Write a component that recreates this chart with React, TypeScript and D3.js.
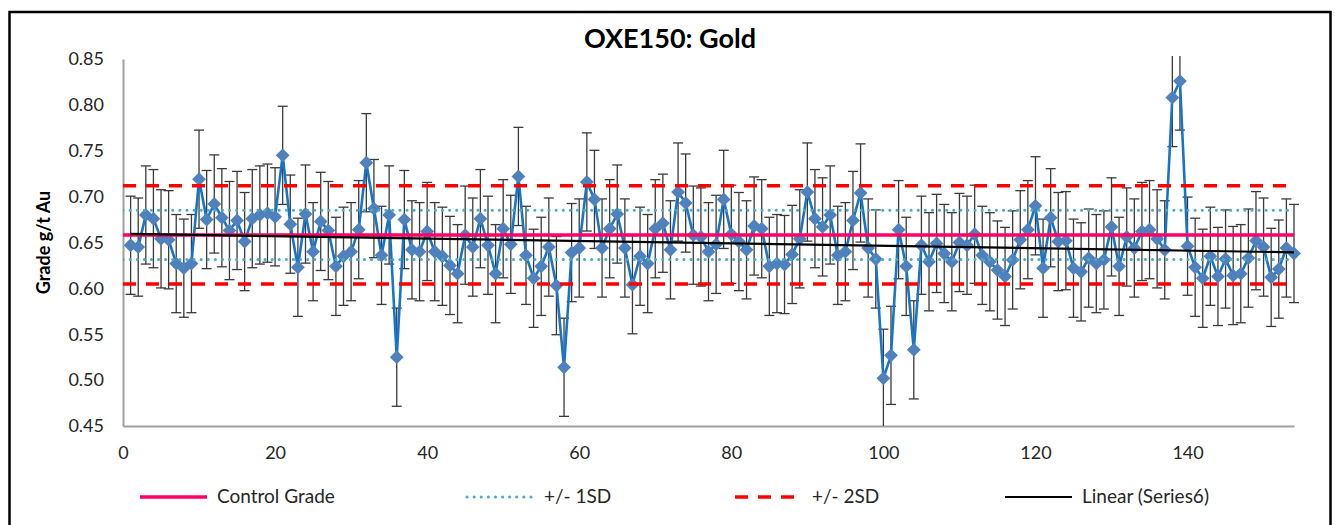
import React, { useEffect, useRef } from 'react';
import * as d3 from 'd3';

const W = 1335;
const H = 525;
const margin = { left: 123, right: 1294, top: 59, bottom: 426 };

// OXE150 gold assays, sample 1..154
const grades = [
  0.647, 0.645, 0.68, 0.676, 0.654, 0.653, 0.627, 0.622, 0.627, 0.719,
  0.675, 0.692, 0.677, 0.663, 0.674, 0.651, 0.676, 0.68, 0.682, 0.678,
  0.745, 0.67, 0.623, 0.681, 0.64, 0.673, 0.663, 0.624, 0.635, 0.64,
  0.664, 0.737, 0.687, 0.636, 0.68, 0.525, 0.675, 0.642,
  0.64, 0.662, 0.64, 0.635, 0.625, 0.616, 0.658, 0.645, 0.676, 0.647,
  0.616, 0.665, 0.648, 0.722, 0.636, 0.611, 0.624, 0.645, 0.603, 0.514,
  0.639, 0.644, 0.716, 0.697, 0.644, 0.665, 0.681, 0.644, 0.604, 0.635,
  0.627, 0.665, 0.671, 0.642, 0.705, 0.693, 0.658, 0.656, 0.64,
  0.648, 0.697, 0.659, 0.651, 0.642, 0.668, 0.665, 0.624, 0.627, 0.626,
  0.637, 0.654, 0.705, 0.676, 0.667, 0.68, 0.636, 0.64, 0.674, 0.704, 0.644, 0.632,
  0.502, 0.527, 0.664, 0.624, 0.533,
  0.647, 0.629, 0.649, 0.638, 0.629, 0.65, 0.647, 0.659, 0.636, 0.629, 0.62, 0.613,
  0.631, 0.653, 0.664, 0.69, 0.622, 0.677, 0.651, 0.652, 0.622, 0.618, 0.633,
  0.627, 0.631, 0.667, 0.624, 0.656, 0.644, 0.662, 0.664, 0.654, 0.642,
  0.808, 0.826,
  0.646, 0.623, 0.611, 0.635, 0.613, 0.632, 0.614, 0.616, 0.633, 0.652,
  0.645, 0.612, 0.621, 0.644, 0.638,
];
const samples = grades.map((_, i) => i + 1);
const errorBar = 0.0535;

const controlGrade = 0.6583;
const sd = 0.0268;

const yTicks = [0.45, 0.5, 0.55, 0.6, 0.65, 0.7, 0.75, 0.8, 0.85];
const xTicks = [0, 20, 40, 60, 80, 100, 120, 140];
const xMax = 154;

const legendItems = [
  { label: 'Control Grade', x: 140, color: '#ff0066', width: 3.5, dash: null, cap: 'butt' },
  { label: '+/- 1SD', x: 467, color: '#4bacc6', width: 3, dash: '0.1 7', cap: 'round' },
  { label: '+/- 2SD', x: 735, color: '#ff0000', width: 3.5, dash: '13 10', cap: 'butt' },
  { label: 'Linear (Series6)', x: 1005, color: '#000000', width: 2.2, dash: null, cap: 'butt' },
];

const font = 'Lato, "Open Sans", sans-serif';

export default function App() {
  const xAxisRef = useRef(null);
  const yAxisRef = useRef(null);
  const plotRef = useRef(null);

  const x = d3.scaleLinear().domain([0, xMax]).range([margin.left, margin.right]);
  const y = d3.scaleLinear().domain([0.45, 0.85]).range([margin.bottom, margin.top]);

  // least squares trend of the grades
  const mx = d3.mean(samples);
  const my = d3.mean(grades);
  const slope =
    d3.sum(samples, (s, i) => (s - mx) * (grades[i] - my)) /
    d3.sum(samples, (s) => (s - mx) ** 2);
  const intercept = my - slope * mx;

  useEffect(() => {
    const yg = d3.select(yAxisRef.current);
    yg.selectAll('*').remove();
    yg.call(
      d3.axisLeft(y).tickValues(yTicks).tickSize(0).tickPadding(19).tickFormat(d3.format('.2f'))
    )
      .call((g) => g.select('.domain').attr('stroke', '#a0a0a0').attr('stroke-width', 2))
      .call((g) =>
        g.selectAll('.tick text').attr('font-size', 18).attr('font-family', font).attr('fill', '#262626')
      );

    const xg = d3.select(xAxisRef.current);
    xg.selectAll('*').remove();
    xg.call(d3.axisBottom(x).tickValues(xTicks).tickSize(0).tickPadding(20).tickFormat(d3.format('d')))
      .call((g) => g.select('.domain').attr('stroke', '#a0a0a0').attr('stroke-width', 2))
      .call((g) =>
        g.selectAll('.tick text').attr('font-size', 18).attr('font-family', font).attr('fill', '#262626')
      );
  }, []);

  useEffect(() => {
    const g = d3.select(plotRef.current);
    g.selectAll('*').remove();

    // error bars
    const eb = g.append('g').attr('stroke', '#3a3a3a').attr('stroke-width', 1.3);
    grades.forEach((v, i) => {
      const cx = x(samples[i]);
      const hi = y(v + errorBar);
      const lo = y(v - errorBar);
      eb.append('line').attr('x1', cx).attr('x2', cx).attr('y1', hi).attr('y2', lo);
      eb.append('line').attr('x1', cx - 5).attr('x2', cx + 5).attr('y1', hi).attr('y2', hi);
      eb.append('line').attr('x1', cx - 5).attr('x2', cx + 5).attr('y1', lo).attr('y2', lo);
    });

    const line = d3
      .line<number>()
      .x((_, i) => x(samples[i]))
      .y((d) => y(d));
    g.append('path')
      .datum(grades)
      .attr('d', line)
      .attr('fill', 'none')
      .attr('stroke', '#1874c7')
      .attr('stroke-width', 2.6)
      .attr('stroke-linejoin', 'round');

    g.append('g')
      .attr('fill', '#4f81bd')
      .selectAll('path')
      .data(grades)
      .join('path')
      .attr('d', d3.symbol(d3.symbolSquare, 95))
      .attr('transform', (d, i) => `translate(${x(samples[i])},${y(d)}) rotate(45)`);

    const hline = (v, color, w, dash, cap) =>
      g
        .append('line')
        .attr('x1', x(0))
        .attr('x2', x(xMax))
        .attr('y1', y(v))
        .attr('y2', y(v))
        .attr('stroke', color)
        .attr('stroke-width', w)
        .attr('stroke-dasharray', dash)
        .attr('stroke-linecap', cap);

    hline(controlGrade + 2 * sd, '#ff0000', 3.5, '13 10', 'butt');
    hline(controlGrade - 2 * sd, '#ff0000', 3.5, '13 10', 'butt');
    hline(controlGrade + sd, '#4bacc6', 3, '0.1 7', 'round');
    hline(controlGrade - sd, '#4bacc6', 3, '0.1 7', 'round');
    hline(controlGrade, '#ff0066', 3.5, null, 'butt');

    g.append('line')
      .attr('x1', x(samples[0]))
      .attr('x2', x(samples[samples.length - 1]))
      .attr('y1', y(intercept + slope * samples[0]))
      .attr('y2', y(intercept + slope * samples[samples.length - 1]))
      .attr('stroke', '#000')
      .attr('stroke-width', 2.2);
  }, []);

  return (
    <svg
      width={W}
      height={H}
      viewBox={`0 0 ${W} ${H}`}
      style={{ position: 'absolute', left: 0, top: 0, background: '#fff' }}
    >
      <rect x={0} y={0} width={W} height={H} fill="#fff" />
      <rect x={9.5} y={12} width={1321} height={H + 10} fill="none" stroke="#000" strokeWidth={2.5} />
      <defs>
        <clipPath id="plotClip">
          <rect x={margin.left} y={margin.top - 3} width={margin.right - margin.left + 10} height={margin.bottom - margin.top + 3} />
        </clipPath>
      </defs>
      <text x={670} y={48} textAnchor="middle" fontFamily={font} fontWeight="bold" fontSize={27} fill="#000">
        OXE150: Gold
      </text>
      <text
        transform={`translate(50,${(margin.top + margin.bottom) / 2}) rotate(-90)`}
        textAnchor="middle"
        fontFamily={font}
        fontWeight="bold"
        fontSize={18}
        fill="#000"
      >
        Grade g/t Au
      </text>
      <g ref={yAxisRef} transform={`translate(${margin.left},0)`} />
      <g ref={xAxisRef} transform={`translate(0,${margin.bottom})`} />
      <g ref={plotRef} clipPath="url(#plotClip)" />
      <g>
        {legendItems.map((it) => (
          <g key={it.label}>
            <line
              x1={it.x}
              x2={it.x + 67}
              y1={497}
              y2={497}
              stroke={it.color}
              strokeWidth={it.width}
              strokeDasharray={it.dash || undefined}
              strokeLinecap={it.cap as any}
            />
            <text x={it.x + 77} y={503} fontFamily={font} fontSize={19} fill="#262626">
              {it.label}
            </text>
          </g>
        ))}
      </g>
    </svg>
  );
}
